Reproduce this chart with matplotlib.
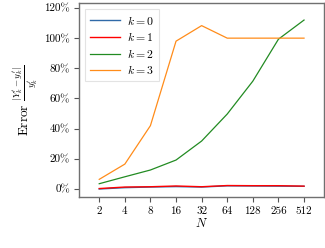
import matplotlib
matplotlib.use("Agg")
import matplotlib.pyplot as plt
import numpy as np

plt.rcParams['font.family'] = 'serif'
plt.rcParams['font.serif'] = ['cmr10', 'DejaVu Serif']
plt.rcParams['mathtext.fontset'] = 'cm'
plt.rcParams['axes.formatter.use_mathtext'] = True

N_labels = ["2", "4", "8", "16", "32", "64", "128", "256", "512"]
k0 = [0.0, 0.9, 1.3, 1.6, 1.3, 2.1, 2.0, 1.9, 1.8]
k1 = [0.3, 1.3, 1.5, 2.0, 1.5, 2.3, 2.2, 2.2, 1.9]
k2 = [3.5, 8.1, 12.6, 19.2, 31.8, 49.7, 71.5, 99.3, 112.0]
k3 = [6.4, 16.5, 42.0, 98.0, 108.3, 100.0, 100.0, 100.0, 100.0]
y_ticks = [0, 20, 40, 60, 80, 100, 120]

fig = plt.figure(figsize=(3.25, 2.48), dpi=100)
ax = fig.add_axes([79/325, 1-197/248, 245/325, 194/248])
x = np.arange(len(N_labels))
ax.plot(x, k0, color="#2f6aa8", lw=1.0, label=r"$k=0$")
ax.plot(x, k1, color="red", lw=1.0, label=r"$k=1$")
ax.plot(x, k2, color="#228b22", lw=0.9, label=r"$k=2$")
ax.plot(x, k3, color="#ff8c1a", lw=0.9, label=r"$k=3$")

ax.set_xlim(-0.79, 8.78)
ax.set_ylim(-5.3, 123.3)
ax.set_xticks(x)
ax.set_xticklabels(N_labels)
ax.set_yticks(y_ticks)
ax.set_yticklabels([f"{v}%" for v in y_ticks])
ax.tick_params(labelsize=8, length=3.5, width=0.8, color="#555555", pad=3)
for s in ax.spines.values():
    s.set_color("#707070")
    s.set_linewidth(1.0)
ax.set_xlabel(r"$N$", fontsize=9, labelpad=1)
ax.set_ylabel(r"Error $\frac{\left|Y_k'-y_k'\right|}{y_k'}$", fontsize=9.5, labelpad=3)
leg = ax.legend(loc="upper left", fontsize=8.5, frameon=True, fancybox=False,
                edgecolor="#dddddd", handlelength=2.6, borderpad=0.4,
                labelspacing=0.3, handletextpad=0.6)
leg.get_frame().set_linewidth(0.8)
fig.savefig("out.png", dpi=100)
